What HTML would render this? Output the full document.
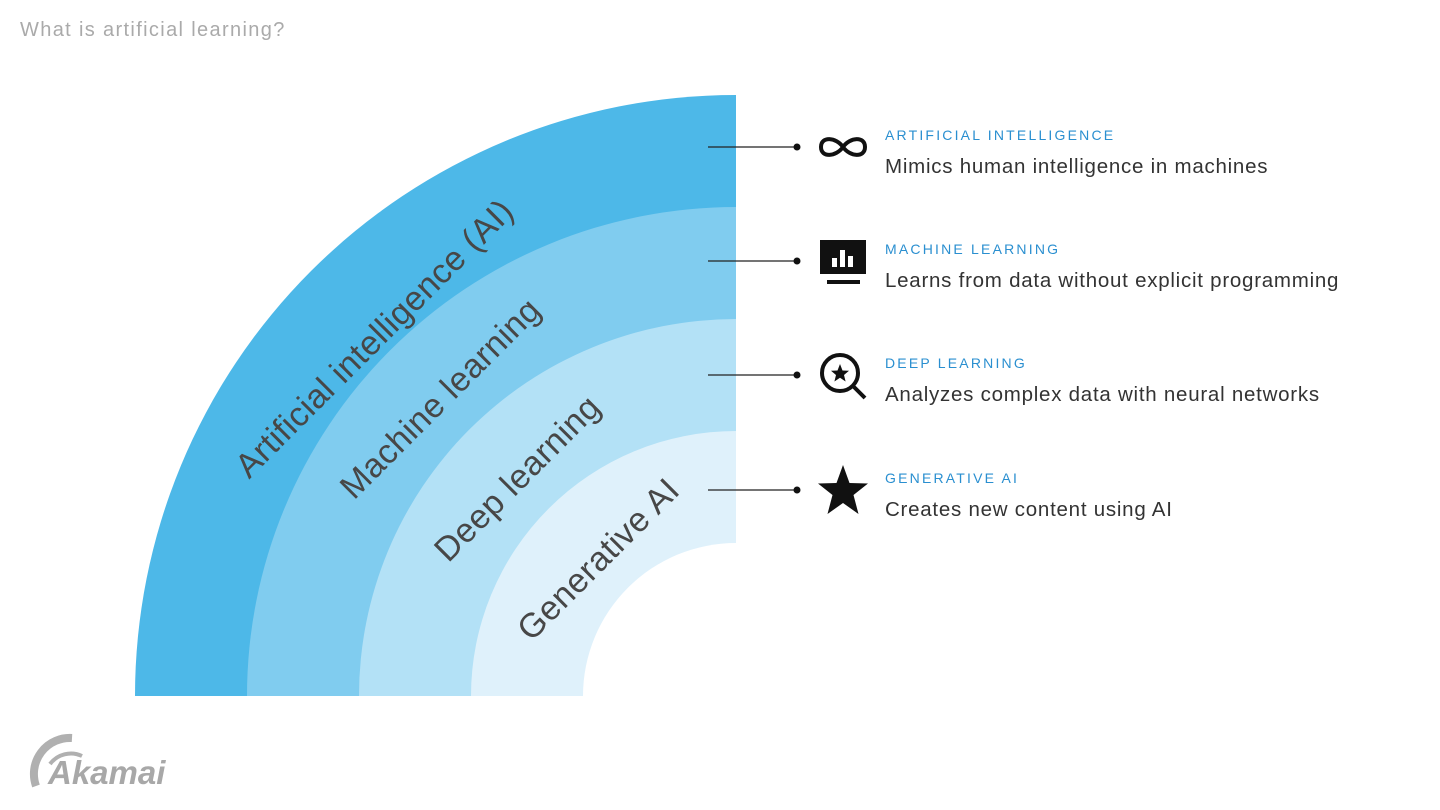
<!DOCTYPE html>
<html><head><meta charset="utf-8"><style>
body{margin:0;width:1440px;height:810px;background:#fff;font-family:"Liberation Sans",sans-serif;overflow:hidden;position:relative}
.t{position:absolute;left:20px;top:19px;font-size:20px;letter-spacing:1.35px;color:#aaa}
.h{position:absolute;left:885px;font-size:14px;letter-spacing:2.2px;color:#2a8fd0}
.d{position:absolute;left:885px;font-size:20.5px;letter-spacing:0.75px;color:#333}
</style></head><body>
<div class="t">What is artificial learning?</div>
<svg width="1440" height="810" style="position:absolute;left:0;top:0">
<path d="M135 696 A601 601 0 0 1 736 95 V696Z" fill="#4db8e8"/>
<path d="M247 696 A489 489 0 0 1 736 207 V696Z" fill="#80ccef"/>
<path d="M359 696 A377 377 0 0 1 736 319 V696Z" fill="#b3e1f6"/>
<path d="M471 696 A265 265 0 0 1 736 431 V696Z" fill="#dff1fb"/>
<path d="M583 696 A153 153 0 0 1 736 543 V696Z" fill="#fff"/>
<g font-family="Liberation Sans, sans-serif" font-size="34" fill="#474747" text-anchor="middle">
<text transform="translate(376,340) rotate(-45)" dominant-baseline="middle" letter-spacing="0.5">Artificial intelligence (AI)</text>
<text transform="translate(442,400) rotate(-45)" dominant-baseline="middle" letter-spacing="0.5">Machine learning</text>
<text transform="translate(519,480) rotate(-45)" dominant-baseline="middle" letter-spacing="0.5">Deep learning</text>
<text transform="translate(600,561) rotate(-45)" dominant-baseline="middle" letter-spacing="0.5">Generative AI</text>
</g>
<g stroke="#222" stroke-width="1.3">
<line x1="708" y1="147" x2="797" y2="147"/><line x1="708" y1="261" x2="797" y2="261"/>
<line x1="708" y1="375" x2="797" y2="375"/><line x1="708" y1="490" x2="797" y2="490"/>
</g>
<g fill="#111"><circle cx="797" cy="147" r="3.5"/><circle cx="797" cy="261" r="3.5"/><circle cx="797" cy="375" r="3.5"/><circle cx="797" cy="490" r="3.5"/></g>
<path d="M843 147 C836 137 821 136 821 147 C821 158 836 157 843 147 C850 137 865 136 865 147 C865 158 850 157 843 147Z" fill="none" stroke="#111" stroke-width="4"/>
<rect x="820" y="240" width="46" height="34" fill="#111"/>
<rect x="827" y="280" width="33" height="4" fill="#111"/>
<g fill="#fff"><rect x="832" y="258" width="5" height="9"/><rect x="840" y="250" width="5" height="17"/><rect x="848" y="256" width="5" height="11"/></g>
<circle cx="840" cy="373" r="18" fill="none" stroke="#111" stroke-width="4"/>
<line x1="853" y1="386" x2="865" y2="398" stroke="#111" stroke-width="4"/>
<polygon points="840,364 842.5,370.5 849,370.8 844,375 845.6,381.5 840,377.8 834.4,381.5 836,375 831,370.8 837.5,370.5" fill="#111"/>
<polygon points="843,465 849.5,483 868,483.5 853.5,495 858.5,514 843,503 827.5,514 832.5,495 818,483.5 836.5,483" fill="#111"/>
<g fill="none" stroke="#b0b0b0"><path d="M36 786 A36 36 0 0 1 72 738" stroke-width="8"/><path d="M50 764 A26 26 0 0 1 82 756" stroke-width="4"/></g>
<text x="48" y="784" font-family="Liberation Sans, sans-serif" font-size="33" font-weight="bold" font-style="italic" fill="#a8a8a8">Akamai</text>
</svg>
<div class="h" style="top:127px">ARTIFICIAL INTELLIGENCE</div><div class="d" style="top:155px">Mimics human intelligence in machines</div>
<div class="h" style="top:241px">MACHINE LEARNING</div><div class="d" style="top:269px">Learns from data without explicit programming</div>
<div class="h" style="top:355px">DEEP LEARNING</div><div class="d" style="top:383px">Analyzes complex data with neural networks</div>
<div class="h" style="top:470px">GENERATIVE AI</div><div class="d" style="top:498px">Creates new content using AI</div>
</body></html>
